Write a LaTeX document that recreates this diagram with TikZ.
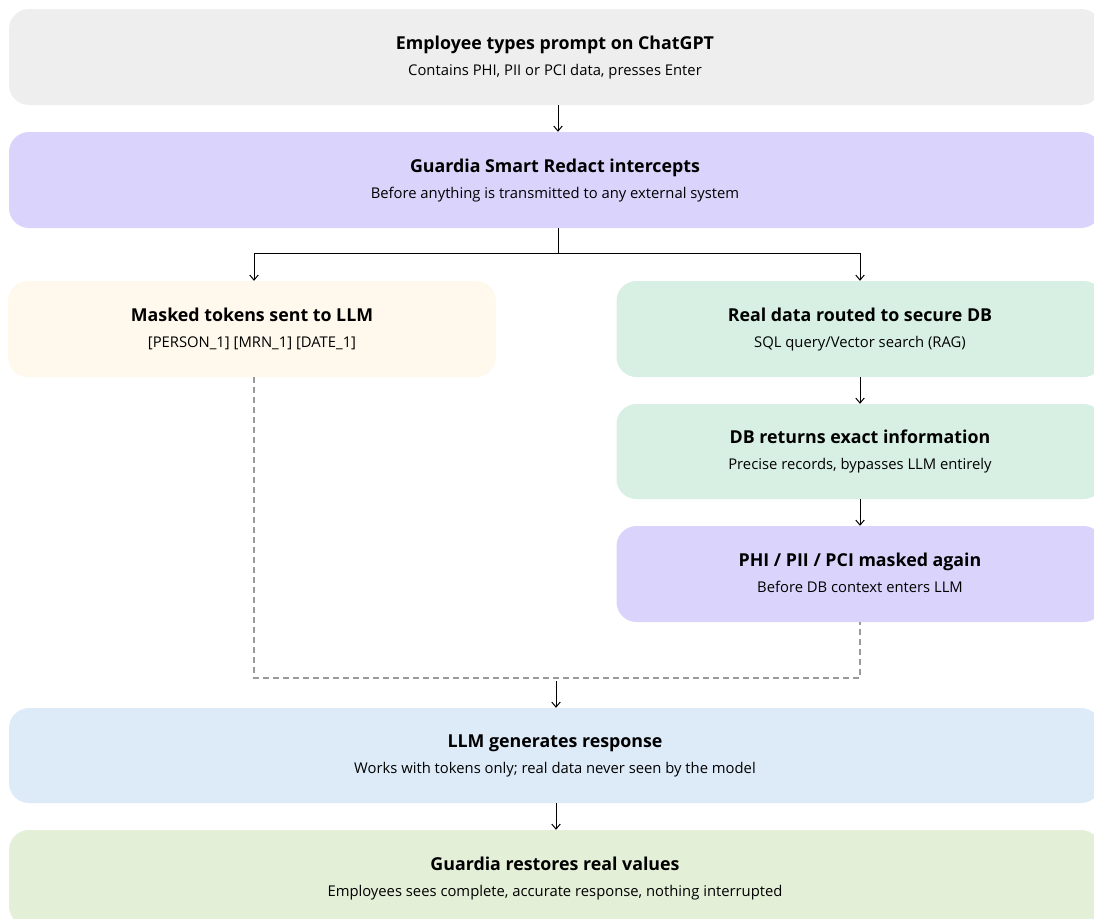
\documentclass[tikz,border=0pt]{standalone}
\usepackage{fontspec}
\setmainfont{Open Sans}
\usetikzlibrary{arrows.meta}
\definecolor{cGray}{HTML}{EEEEEE}
\definecolor{cLav}{HTML}{DAD4FC}
\definecolor{cCream}{HTML}{FFF8EC}
\definecolor{cMint}{HTML}{D7F0E3}
\definecolor{cBlue}{HTML}{DDEBF9}
\definecolor{cSage}{HTML}{E4EFD8}
\definecolor{cDash}{HTML}{9A9A9A}
\tikzset{
  card/.style={draw=none, rounded corners=20pt, minimum height=96pt, inner sep=0pt, align=center, font=\fontsize{14.8}{26}\selectfont},
  wide/.style={card, minimum width=1092pt},
  half/.style={card, minimum width=487pt},
  flow/.style={draw=black, line width=1pt, -{Straight Barb[length=5pt,width=8.5pt,line width=1pt]}},
  link/.style={draw=black, line width=1pt},
  dashlink/.style={draw=cDash, line width=1.1pt, dash pattern=on 6pt off 4pt},
}
\newcommand{\ttl}[1]{{\fontsize{17.8}{26}\selectfont\bfseries\rule{0pt}{14pt}#1}}
\newcommand{\sbt}[1]{{\fontsize{14.8}{26}\selectfont\rule[-4pt]{0pt}{4pt}#1}}
\newcommand{\card}[2]{\ttl{#1}\\\sbt{#2}}
\begin{document}
\begin{tikzpicture}[x=1pt,y=-1pt]
\useasboundingbox (0,0) rectangle (1094,918);
\node[wide, fill=cGray] (prompt) at (555,57) {\card{Employee types prompt on ChatGPT}{Contains PHI, PII or PCI data, presses Enter}};
\node[wide, fill=cLav] (redact) at (555,180) {\card{Guardia Smart Redact intercepts}{Before anything is transmitted to any external system}};
\node[half, fill=cCream, minimum width=488pt] (masked) at (252,329) {\card{Masked tokens sent to LLM}{[PERSON\_1] [MRN\_1] [DATE\_1]}};
\node[half, fill=cMint] (real) at (860,329) {\card{Real data routed to secure DB}{SQL query/Vector search (RAG)}};
\node[half, fill=cMint, minimum height=95pt] (dbret) at (860,451.5) {\card{DB returns exact information}{Precise records, bypasses LLM entirely}};
\node[half, fill=cLav] (again) at (860,574) {\card{PHI / PII / PCI masked again}{Before DB context enters LLM}};
\node[wide, fill=cBlue, minimum height=95pt] (llm) at (555,755.5) {\card{LLM generates response}{Works with tokens only; real data never seen by the model}};
\node[wide, fill=cSage] (restore) at (555,878) {\card{Guardia restores real values}{Employees sees complete, accurate response, nothing interrupted}};

\coordinate (split) at (558,253.5);
\coordinate (tapL) at (254,253.5);
\draw[flow] (prompt.south -| split) -- (redact.north -| split);
\draw[link] (redact.south -| split) -- (split);
\draw[flow] (split) -- (tapL) -- (tapL |- masked.north);
\draw[flow] (split) -| (real.north);
\draw[flow] (real.south) -- (dbret.north);
\draw[flow] (dbret.south) -- (again.north);
\coordinate (join) at (558,678);
\draw[dashlink] (masked.south -| tapL) |- (join) -| (again.south);
\coordinate (joinout) at (556,681);
\draw[flow] (joinout) -- (joinout |- llm.north);
\draw[flow] (llm.south -| joinout) -- (joinout |- restore.north);
\end{tikzpicture}
\end{document}
